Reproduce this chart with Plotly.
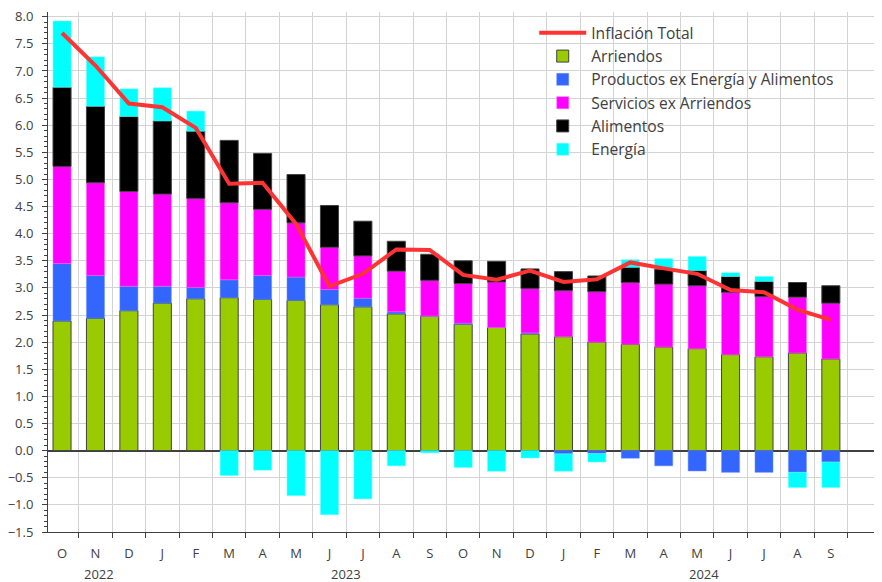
import plotly.graph_objects as go

# ---- data ----
periods = ["2022-10", "2022-11", "2022-12",
           "2023-01", "2023-02", "2023-03", "2023-04", "2023-05", "2023-06",
           "2023-07", "2023-08", "2023-09", "2023-10", "2023-11", "2023-12",
           "2024-01", "2024-02", "2024-03", "2024-04", "2024-05", "2024-06",
           "2024-07", "2024-08", "2024-09"]
month_labels = ["O", "N", "D", "J", "F", "M", "A", "M", "J", "J", "A", "S",
                "O", "N", "D", "J", "F", "M", "A", "M", "J", "J", "A", "S"]
year_labels = ["2022", "2023", "2024"]
year_positions = [1.1, 8.5, 19.2]

arriendos = [2.39, 2.44, 2.58, 2.72, 2.80, 2.82, 2.79, 2.77, 2.69, 2.65, 2.52, 2.48,
             2.33, 2.27, 2.15, 2.10, 2.00, 1.96, 1.91, 1.88, 1.77, 1.73, 1.80, 1.69]
productos = [1.06, 0.79, 0.45, 0.31, 0.21, 0.33, 0.44, 0.43, 0.28, 0.16, 0.04, 0.00,
             0.02, 0.00, 0.02, -0.06, -0.055, -0.14, -0.28, -0.375, -0.40, -0.40, -0.40, -0.21]
servicios = [1.79, 1.71, 1.75, 1.70, 1.64, 1.42, 1.22, 1.00, 0.78, 0.78, 0.75, 0.66,
             0.73, 0.84, 0.82, 0.85, 0.93, 1.14, 1.16, 1.16, 1.15, 1.11, 1.03, 1.03]
alimentos = [1.46, 1.41, 1.38, 1.35, 1.24, 1.15, 1.03, 0.89, 0.77, 0.64, 0.55, 0.48,
             0.42, 0.38, 0.36, 0.35, 0.29, 0.28, 0.28, 0.28, 0.29, 0.28, 0.27, 0.32]
energia = [1.22, 0.91, 0.51, 0.61, 0.37, -0.46, -0.36, -0.83, -1.18, -0.89, -0.28, -0.04,
           -0.31, -0.38, -0.135, -0.32, -0.155, 0.14, 0.19, 0.26, 0.07, 0.09, -0.28, -0.47]
inflacion = [7.70, 7.10, 6.40, 6.33, 5.95, 4.92, 4.94, 4.18, 3.03, 3.26, 3.71, 3.70,
             3.24, 3.15, 3.32, 3.11, 3.16, 3.47, 3.36, 3.26, 2.96, 2.92, 2.60, 2.41]

# ---- figure ----
fig = go.Figure()
fig.add_trace(go.Scatter(x=periods, y=inflacion, name="Inflación Total", mode="lines",
                         line=dict(color="#FF3333", width=4)))
bar_specs = [
    ("Arriendos", arriendos, "#99CC00", "#404040", 1),
    ("Productos ex Energía y Alimentos", productos, "#3366FF", "#6B8EFF", 0.5),
    ("Servicios ex Arriendos", servicios, "#FF00FF", "#FF66FF", 0.5),
    ("Alimentos", alimentos, "#000000", "#404040", 1),
    ("Energía", energia, "#00FFFF", "#66FFFF", 0.5),
]
for name, vals, col, lcol, lw in bar_specs:
    fig.add_trace(go.Bar(x=periods, y=vals, name=name,
                         marker=dict(color=col, line=dict(color=lcol, width=lw))))

tick_font = dict(family="Open Sans", size=13, color="#404040")
ymin, ymax = -1.5, 8.087
xr = [-0.42, 24.53]

# page body has an 8px margin; the figure is sized/offset to compensate
fig.update_layout(
    width=874, height=574,
    margin=dict(l=40, r=0, t=3.7, b=49.7, autoexpand=False),
    paper_bgcolor="white", plot_bgcolor="white",
    barmode="relative", bargap=0.46,
    showlegend=True,
    legend=dict(x=0.583, y=0.992, xanchor="left", yanchor="top",
                traceorder="normal", itemwidth=47,
                font=dict(family="Open Sans", size=15.6, color="#404040"),
                bgcolor="rgba(0,0,0,0)"),
    xaxis=dict(type="category", range=xr,
               tickmode="array", tickvals=periods, ticktext=month_labels,
               tickson="boundaries", ticks="outside", ticklen=5, tickcolor="#404040",
               showgrid=True, gridcolor="#D3D3D3", gridwidth=1,
               showline=True, linecolor="#404040", linewidth=1,
               tickfont=tick_font, ticklabelstandoff=9),
    xaxis2=dict(overlaying="x", anchor="free", position=(0 - ymin) / (ymax - ymin),
                range=xr, tickmode="array",
                tickvals=[i + 0.5 for i in range(len(periods))],
                ticks="outside", ticklen=5, tickcolor="#404040",
                showticklabels=False, showgrid=False, showline=False, zeroline=False),
    yaxis=dict(range=[ymin, ymax], tickmode="linear", tick0=0, dtick=0.5,
               tickformat=".1f", ticks="outside", ticklen=5, tickcolor="#404040",
               showgrid=True, gridcolor="#D3D3D3", gridwidth=1,
               zeroline=True, zerolinecolor="#404040", zerolinewidth=1.5,
               showline=True, linecolor="#404040", linewidth=1,
               minor=dict(ticks="outside", ticklen=3, dtick=0.1, tickcolor="#404040",
                          showgrid=False),
               tickfont=tick_font, ticklabelstandoff=6,
               ticklabeloverflow="allow"),
)

for lab, pos in zip(year_labels, year_positions):
    fig.add_annotation(text=lab, x=pos, xref="x", y=-0.08, yref="paper",
                       showarrow=False, xanchor="center", yanchor="middle",
                       font=tick_font)

fig.write_html("out.html")
